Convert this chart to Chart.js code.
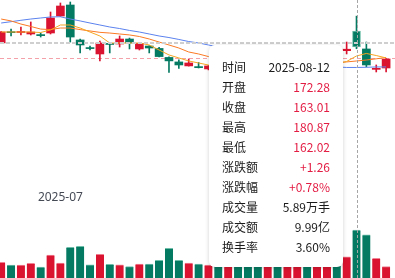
<!DOCTYPE html>
<html>
<head>
<meta charset="utf-8">
<script src="https://cdn.jsdelivr.net/npm/chart.js@4/dist/chart.umd.min.js"></script>
<style>
  html, body { margin: 0; padding: 0; background: #fff; overflow: hidden; }
  #wrap { position: relative; width: 395px; height: 278px; }
  canvas { display: block; }
  #tip {
    position: absolute; left: 209px; top: 45px; width: 134px; height: 222px;
    background: #fff; border-radius: 6px; box-sizing: border-box;
    box-shadow: 0 1px 4px rgba(0,0,0,0.18);
    padding: 12px 13px 0 13px;
    font-family: "Noto Sans CJK SC", "Noto Sans", sans-serif; font-size: 12px; color: #1a1a1a;
  }
  #tip .row { display: flex; justify-content: space-between; height: 20px; line-height: 20px; white-space: nowrap; }
  #tip .up { color: #e31c43; }
  #tip .down { color: #067a62; }
</style>
</head>
<body>
<div id="wrap">
  <canvas id="kline" width="395" height="278"></canvas>
  <div id="tip"></div>
</div>
<script>
// Trading days shown in the window
const dates = [
  '2025-06-23','2025-06-24','2025-06-25','2025-06-26','2025-06-27','2025-06-30',
  '2025-07-01','2025-07-02','2025-07-03','2025-07-04','2025-07-07','2025-07-08',
  '2025-07-09','2025-07-10','2025-07-11','2025-07-14','2025-07-15','2025-07-16',
  '2025-07-17','2025-07-18','2025-07-21','2025-07-22','2025-07-23','2025-07-24',
  '2025-07-25','2025-07-28','2025-07-29','2025-07-30','2025-07-31','2025-08-01',
  '2025-08-04','2025-08-05','2025-08-06','2025-08-07','2025-08-08','2025-08-11',
  '2025-08-12','2025-08-13','2025-08-14','2025-08-15'
];

// Daily prices
const opens  = [165.4,171.9,171.4,170.55,170.2,171.13,180.95,187.31,167.1,162.7,159.0,165.1,164.77,167.65,161.9,163.6,162.2,157.0,154.4,152.1,151.7,150.35,152.2,151.0,152.5,151.8,150.9,150.3,152.0,151.3,153.0,154.5,153.5,155.3,157.0,160.9,172.28,161.9,150.1,150.9];
const closes = [171.7,171.3,172.0,171.7,169.6,179.8,186.73,168.8,164.2,162.1,165.35,164.5,167.65,165.35,165.1,162.45,157.5,155.0,152.65,153.8,151.1,152.1,150.9,152.4,151.6,150.7,150.2,151.8,151.2,152.9,154.6,153.4,155.2,157.1,156.3,161.75,163.01,152.65,150.7,156.1];
const highs  = [172.0,173.4,174.6,177.5,171.1,183.26,188.47,189.04,167.65,163.6,166.5,165.35,169.4,168.2,165.35,163.8,162.8,157.3,155.55,156.1,154.1,152.4,152.8,153.1,153.0,152.3,151.5,152.4,152.6,153.5,155.2,155.0,155.9,157.8,158.1,165.9,180.87,165.9,152.65,156.3];
const lows   = [165.0,169.4,170.0,169.97,168.8,170.55,180.7,165.9,159.6,161.3,155.0,159.6,163.03,161.9,161.3,159.6,157.3,148.3,150.6,152.0,150.9,149.8,150.2,150.5,151.0,150.1,149.5,149.9,150.6,150.9,152.5,152.8,153.0,154.9,155.6,159.0,162.02,151.5,148.6,148.6];

// Volume, 万手
const volumes = [1.93,1.6,1.6,1.8,1.35,2.82,1.84,3.77,3.89,1.63,2.91,1.68,1.63,1.39,1.72,1.72,2.17,3.64,2.17,1.84,1.72,1.6,1.55,1.7,1.5,1.62,1.45,1.58,1.66,1.52,1.75,1.6,1.69,1.8,1.9,2.61,5.89,5.28,2.42,1.39];

// Moving averages
const ma5  = [171.7,171.7,171.7,171.7,171.4,172.9,175.75,175.75,174.0,171.7,169.4,165.35,165.35,165.35,165.35,164.2,161.3,158.45,156.7,154.95,153.8,152.6,152.0,151.8,152.3,152.0,151.5,151.9,152.4,152.8,153.3,153.0,153.4,153.6,153.4,154.65,157.85,159.3,158.1,156.7];
const ma10 = [179.2,178.1,176.3,174.9,173.4,173.1,174.0,174.0,173.1,172.3,171.5,171.1,170.55,170.0,169.1,167.65,165.9,164.2,162.45,160.15,159.0,157.5,157.1,156.6,156.0,155.4,154.8,154.3,153.9,153.6,153.4,153.3,153.5,153.7,154.0,154.4,154.95,155.5,156.2,157.0];
const ma20 = [176.9,177.66,178.47,179.2,179.8,180.4,180.5,179.2,178.1,176.9,175.75,174.6,173.7,172.6,171.7,170.55,169.4,168.5,167.4,166.2,165.35,164.2,163.0,161.9,161.0,159.85,159.0,157.85,156.7,155.8,154.95,153.8,152.9,152.05,151.5,151.2,151.2,151.3,151.5,151.5];

// Hovered day and its extra quote fields
const hoverIndex = 36;
const crossPrice = 165.35;
const refPrice = 156.6;
const tradeAmount = 9.99;   // 亿
const turnoverRate = 3.60;  // %

const UP = 'rgb(218,20,48)';
const DOWN = 'rgb(5,122,98)';
const UP_EDGE = 'rgb(240,130,148)';
const DOWN_EDGE = 'rgb(110,190,170)';

const idx = dates.map((d, i) => i);
const isUp = i => closes[i] >= opens[i];
const col = i => isUp(i) ? UP : DOWN;

const bodyData = idx.map(i => ({ x: i, y: [Math.min(opens[i], closes[i]), Math.max(opens[i], closes[i])] }));
const wickData = idx.map(i => ({ x: i, y: [lows[i], highs[i]] }));
const volData  = idx.map(i => ({ x: i, y: volumes[i] }));
const line = arr => idx.map(i => ({ x: i, y: arr[i] }));

const overlay = {
  id: 'overlay',
  beforeDatasetsDraw(chart) {
    const { ctx, chartArea, scales: { x, y } } = chart;
    ctx.save();
    // reference price line
    ctx.strokeStyle = '#f4a1aa';
    ctx.lineWidth = 1;
    ctx.setLineDash([4, 3]);
    const py = Math.round(y.getPixelForValue(refPrice)) + 0.5;
    ctx.beginPath(); ctx.moveTo(chartArea.left, py); ctx.lineTo(chartArea.right, py); ctx.stroke();
    // month labels at the first trading day of each month
    ctx.setLineDash([]);
    ctx.fillStyle = '#454a55';
    ctx.font = '12px "Noto Sans", sans-serif';
    ctx.textAlign = 'center';
    ctx.textBaseline = 'middle';
    dates.forEach((d, i) => {
      if (i > 0 && d.slice(0, 7) !== dates[i - 1].slice(0, 7)) {
        ctx.fillText(d.slice(0, 7), x.getPixelForValue(i), 198);
      }
    });
    ctx.restore();
  },
  afterDatasetsDraw(chart) {
    const { ctx, chartArea, scales: { x, y } } = chart;
    ctx.save();
    // horizontal crosshair
    ctx.strokeStyle = '#cfcfcf';
    ctx.lineWidth = 2;
    ctx.setLineDash([4, 2]);
    const cy = Math.round(y.getPixelForValue(crossPrice));
    ctx.beginPath(); ctx.moveTo(chartArea.left, cy); ctx.lineTo(chartArea.right, cy); ctx.stroke();
    // vertical crosshair
    ctx.strokeStyle = '#a6a6a6';
    ctx.lineWidth = 1;
    ctx.setLineDash([3, 2]);
    const cx = Math.round(x.getPixelForValue(hoverIndex)) + 0.5;
    ctx.beginPath(); ctx.moveTo(cx, chartArea.top); ctx.lineTo(cx, chartArea.bottom); ctx.stroke();
    ctx.restore();
  }
};

new Chart(document.getElementById('kline'), {
  type: 'bar',
  data: {
    datasets: [
      { type: 'line', data: line(ma5),  borderColor: '#f6a623', borderWidth: 1, pointRadius: 0, tension: 0, yAxisID: 'y', order: 0 },
      { type: 'line', data: line(ma10), borderColor: '#fb7a24', borderWidth: 1, pointRadius: 0, tension: 0, yAxisID: 'y', order: 0 },
      { type: 'line', data: line(ma20), borderColor: '#5b82ee', borderWidth: 1, pointRadius: 0, tension: 0, yAxisID: 'y', order: 0 },
      { data: bodyData, backgroundColor: idx.map(col), borderColor: idx.map(i => i === hoverIndex ? (isUp(i) ? UP_EDGE : DOWN_EDGE) : col(i)),
        borderWidth: idx.map(i => i === hoverIndex ? 1 : 0), borderSkipped: false,
        barThickness: 8, grouped: false, yAxisID: 'y', order: 1 },
      { data: wickData, backgroundColor: idx.map(col), barThickness: 1, grouped: false, yAxisID: 'y', order: 2 },
      { data: volData, backgroundColor: idx.map(col), borderColor: idx.map(i => isUp(i) ? UP_EDGE : DOWN_EDGE),
        borderWidth: { top: 1, left: 0, right: 0, bottom: 0 }, borderSkipped: 'bottom',
        barThickness: 8, grouped: false, yAxisID: 'yv', order: 3 }
    ]
  },
  options: {
    responsive: false,
    animation: false,
    layout: { padding: 0 },
    events: [],
    plugins: { legend: { display: false }, tooltip: { enabled: false } },
    scales: {
      x: { type: 'linear', min: -0.12, max: 39.9, display: false, offset: false },
      y: { min: 29.5, max: 190.2, display: false },
      yv: { min: 0, max: 34.1, display: false }
    }
  },
  plugins: [overlay]
});

// Quote panel for the hovered day
(function () {
  const i = hoverIndex;
  const prev = closes[i - 1];
  const chg = closes[i] - prev;
  const pct = chg / prev * 100;
  const cls = v => v > prev ? 'up' : (v < prev ? 'down' : '');
  const sign = v => (v > 0 ? '+' : '') ;
  const rows = [
    ['时间', dates[i], ''],
    ['开盘', opens[i].toFixed(2), cls(opens[i])],
    ['收盘', closes[i].toFixed(2), cls(closes[i])],
    ['最高', highs[i].toFixed(2), cls(highs[i])],
    ['最低', lows[i].toFixed(2), cls(lows[i])],
    ['涨跌额', sign(chg) + chg.toFixed(2), chg > 0 ? 'up' : 'down'],
    ['涨跌幅', sign(pct) + pct.toFixed(2) + '%', pct > 0 ? 'up' : 'down'],
    ['成交量', volumes[i].toFixed(2) + '万手', ''],
    ['成交额', tradeAmount.toFixed(2) + '亿', ''],
    ['换手率', turnoverRate.toFixed(2) + '%', '']
  ];
  document.getElementById('tip').innerHTML = rows.map(r =>
    '<div class="row"><span>' + r[0] + '</span><span class="' + r[2] + '">' + r[1] + '</span></div>'
  ).join('');
})();
</script>
</body>
</html>
